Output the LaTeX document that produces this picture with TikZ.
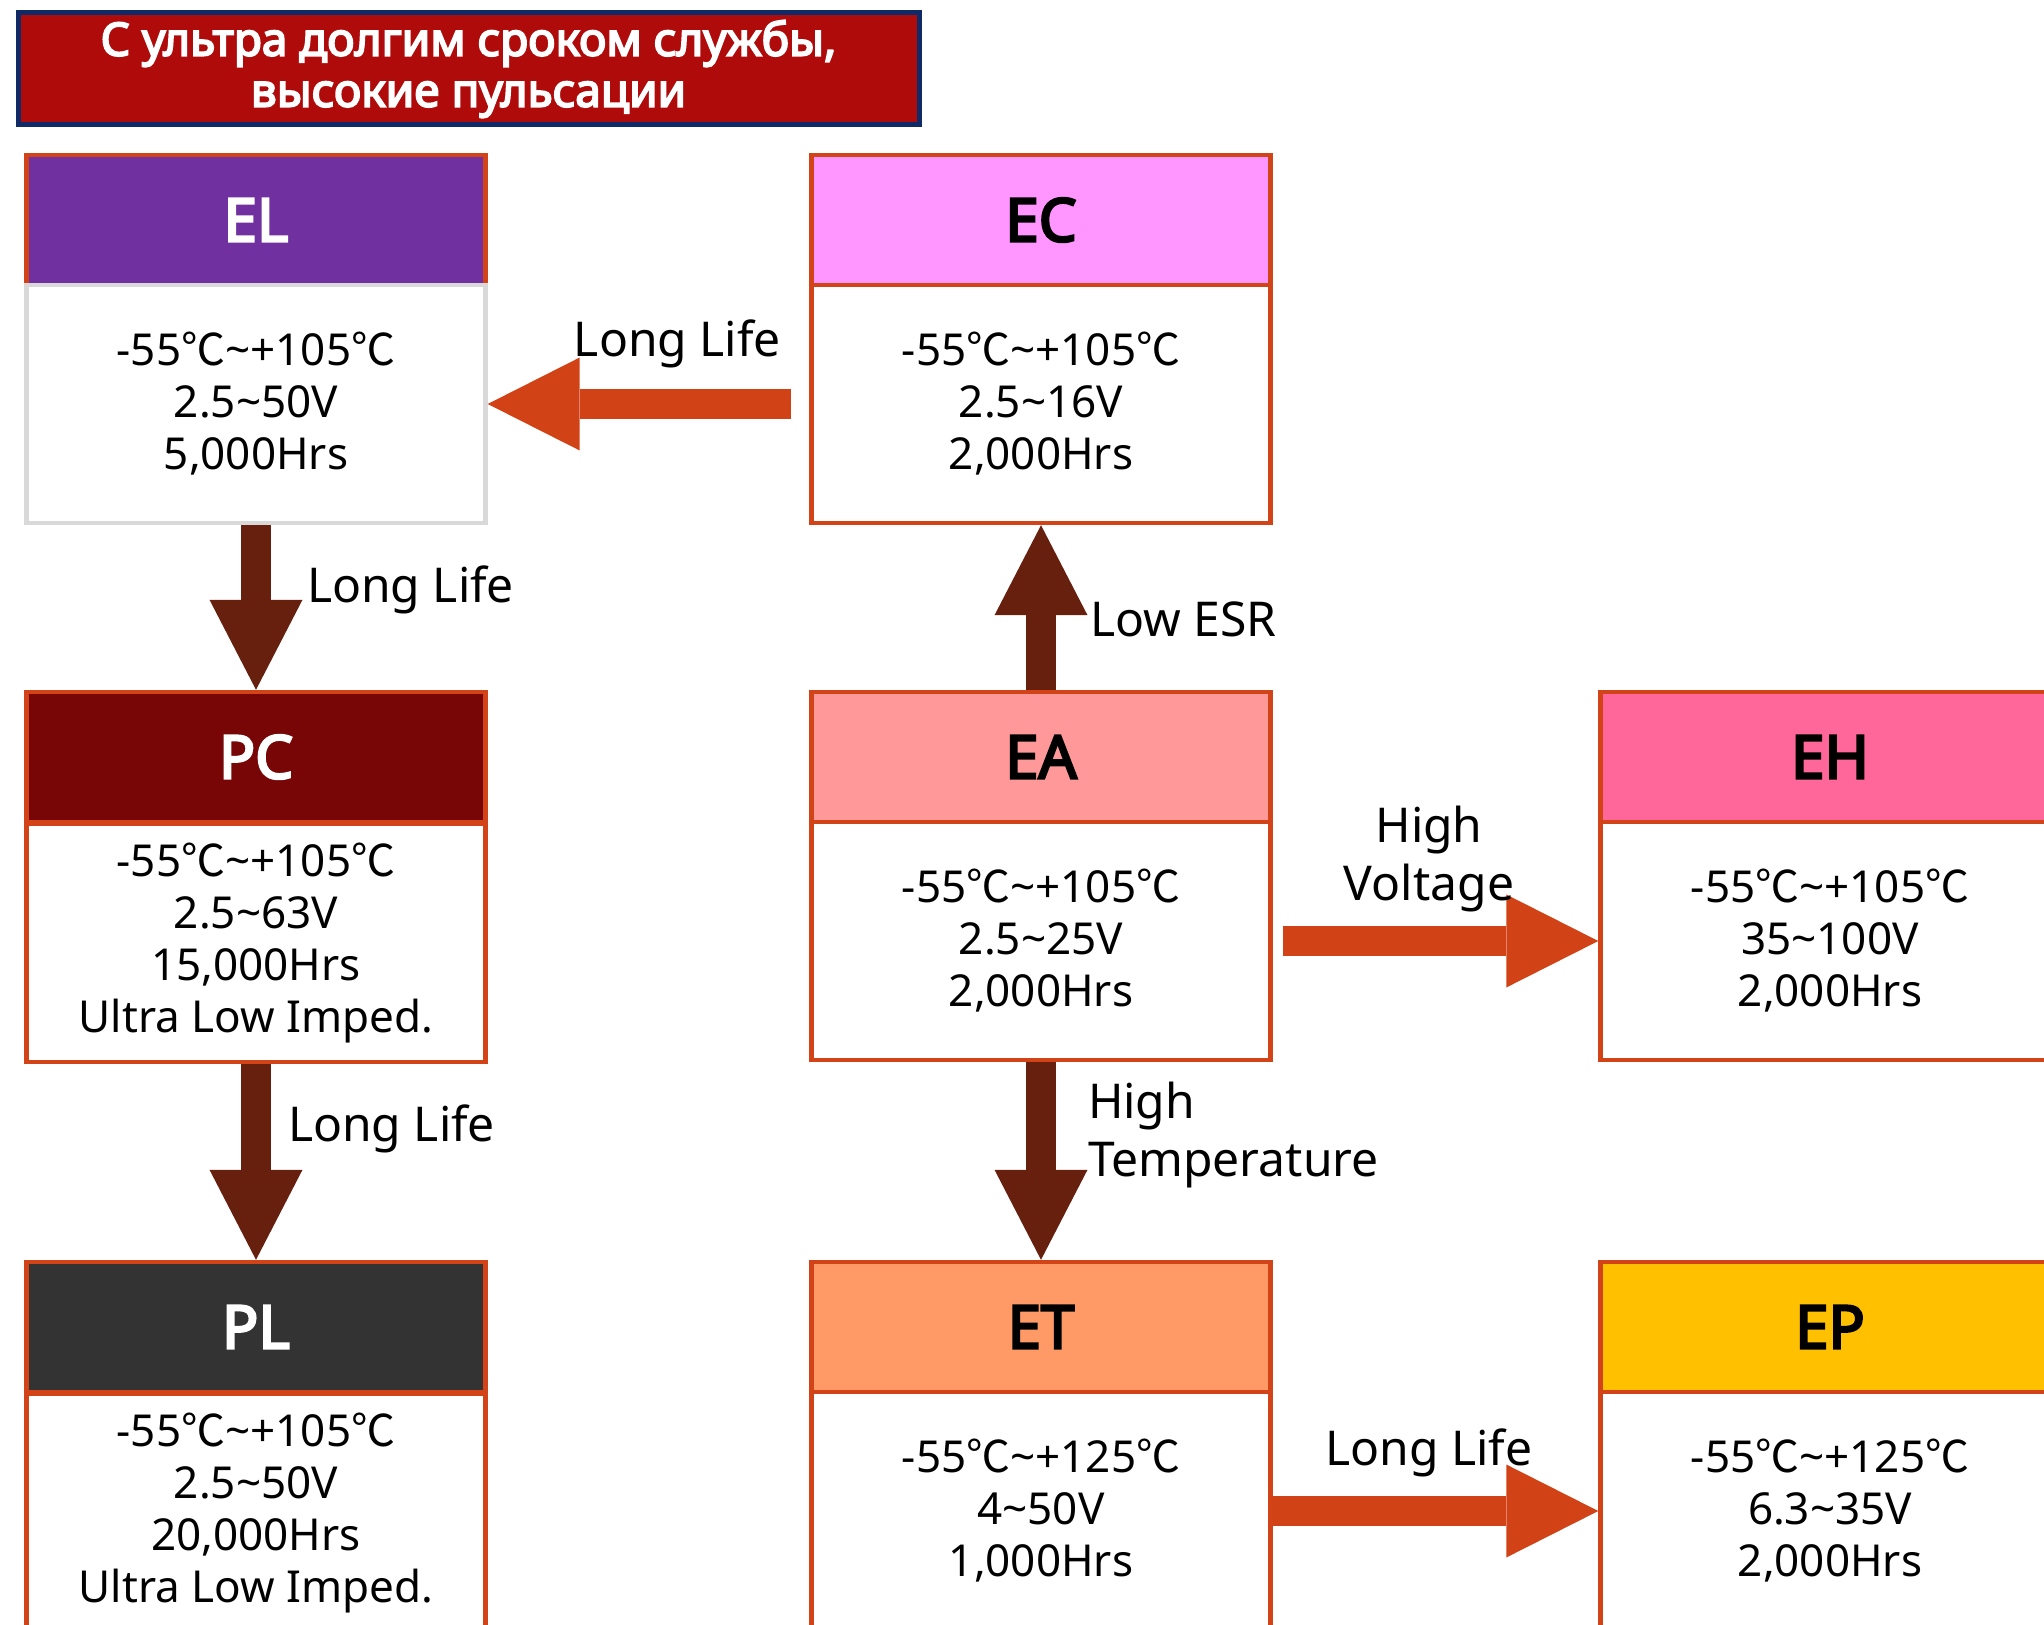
\documentclass[tikz,border=0pt]{standalone}
\usepackage{fontspec}
\setmainfont{Noto Sans}[BoldFont={Noto Sans}, BoldFeatures={FakeBold=4}]
\newfontfamily\cjk{Noto Sans CJK SC}
\usetikzlibrary{arrows.meta}

\definecolor{edgecol}{RGB}{210,67,23}
\definecolor{arrred}{RGB}{209,66,22}
\definecolor{arrbrn}{RGB}{104,32,14}
\definecolor{titlered}{RGB}{176,11,11}
\definecolor{titlenavy}{RGB}{15,42,102}
\definecolor{elgray}{RGB}{217,217,217}
\definecolor{elcol}{RGB}{112,48,160}
\definecolor{eccol}{RGB}{255,150,255}
\definecolor{pccol}{RGB}{120,6,6}
\definecolor{eacol}{RGB}{255,153,153}
\definecolor{ehcol}{RGB}{255,102,153}
\definecolor{plcol}{RGB}{51,51,51}
\definecolor{etcol}{RGB}{255,153,102}
\definecolor{epcol}{RGB}{255,192,0}

\newcommand{\degc}{{\cjk ℃}}
\newcommand{\tld}{\textasciitilde}

\begin{document}
\begin{tikzpicture}[x=0.5pt, y=-0.5pt,
    titlebox/.style={draw=titlenavy, fill=titlered, line width=2.5pt, text=white,
        minimum width=450.5pt, minimum height=56pt, align=center, inner sep=0pt,
        font=\bfseries\fontsize{23}{25.5}\selectfont},
    head/.style={draw=edgecol, line width=2.2pt, minimum width=229.5pt,
        minimum height=65pt, inner sep=0pt, font=\bfseries\fontsize{30}{34}\selectfont},
    body/.style={draw=edgecol, fill=white, line width=2.2pt, minimum width=229.5pt,
        minimum height=119pt, inner sep=0pt, align=center,
        font=\fontsize{22}{26}\selectfont},
    redarr/.style={draw=arrred, line width=15pt,
        -{Triangle[length=46pt, width=46.5pt, line width=0pt]}},
    brnarr/.style={draw=arrbrn, line width=15pt,
        -{Triangle[length=45pt, width=46.5pt, line width=0pt]}},
    lbl/.style={font=\fontsize{24}{29}\selectfont, inner sep=0pt, text=black}]

    % Declare the frame
    \useasboundingbox (0, 0) rectangle (2044, 1625);

    % Declare the title
    \node[titlebox] at (468.5, 69) (title) {С ультра долгим сроком службы,\\высокие пульсации};

    % Declare the headers
    \node[head, fill=elcol, text=white] at (256, 220) (ELh) {EL};
    \node[head, fill=eccol] at (1041, 220) (ECh) {EC};
    \node[head, fill=pccol, text=white] at (256, 757) (PCh) {PC};
    \node[head, fill=eacol] at (1041, 757) (EAh) {EA};
    \node[head, fill=ehcol] at (1830, 757) (EHh) {EH};
    \node[head, fill=plcol, text=white] at (256, 1327) (PLh) {PL};
    \node[head, fill=etcol] at (1041, 1327) (ETh) {ET};
    \node[head, fill=epcol] at (1830, 1327) (EPh) {EP};

    % Declare the bodies
    \node[body, draw=elgray] at (256, 404) (ELb) {-55\degc\tld+105\degc\\2.5\tld50V\\5,000Hrs};
    \node[body] at (1041, 404) (ECb) {-55\degc\tld+105\degc\\2.5\tld16V\\2,000Hrs};
    \node[body] at (256, 943) (PCb) {-55\degc\tld+105\degc\\2.5\tld63V\\15,000Hrs\\Ultra Low Imped.};
    \node[body] at (1041, 941) (EAb) {-55\degc\tld+105\degc\\2.5\tld25V\\2,000Hrs};
    \node[body] at (1830, 941) (EHb) {-55\degc\tld+105\degc\\35\tld100V\\2,000Hrs};
    \node[body] at (256, 1513) (PLb) {-55\degc\tld+105\degc\\2.5\tld50V\\20,000Hrs\\Ultra Low Imped.};
    \node[body] at (1041, 1511) (ETb) {-55\degc\tld+125\degc\\4\tld50V\\1,000Hrs};
    \node[body] at (1830, 1511) (EPb) {-55\degc\tld+125\degc\\6.3\tld35V\\2,000Hrs};

    % Declare edges
    \draw[redarr, shorten <=9pt] (ECb) -- (ELb) node[lbl, pos=.41, yshift=30pt] (lEL) {Long Life};
    \draw[brnarr] (ELb) -- (PCh) node[lbl, pos=.36, anchor=west, xshift=18pt, yshift=-2.5pt] (lPC) {Long Life};
    \draw[brnarr] (PCb) -- (PLh) node[lbl, pos=.31, anchor=west, xshift=8.5pt, yshift=-2pt] (lPL) {Long Life};
    \draw[brnarr] (EAh) -- (ECb) node[lbl, pos=.43, anchor=west, xshift=17pt] (lEC) {Low ESR};
    \draw[brnarr] (EAb) -- (ETh) node[lbl, pos=.35, anchor=west, xshift=16pt, yshift=-2pt, align=left] (lET) {High\\Temperature};
    \draw[redarr, shorten <=5pt] (EAb) -- (EHb) node[lbl, pos=.48, yshift=41pt, align=center] (lEH) {High\\Voltage};
    \draw[redarr] (ETb) -- (EPb) node[lbl, pos=.48, yshift=29pt] (lEP) {Long Life};

\end{tikzpicture}
\end{document}
